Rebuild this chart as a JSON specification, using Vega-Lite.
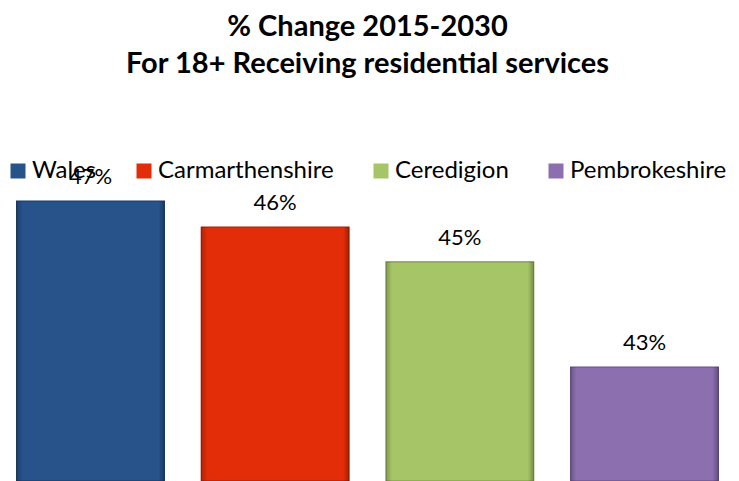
{
  "$schema": "https://vega.github.io/schema/vega-lite/v6.json",
  "width": 735,
  "height": 360,
  "autosize": {"type": "none"},
  "padding": {"top": 121, "left": 0, "right": 0, "bottom": 0},
  "background": "white",
  "title": {
    "text": ["% Change 2015-2030", "For 18+ Receiving residential services"],
    "font": "Lato",
    "fontSize": 29,
    "fontWeight": "bold",
    "color": "black",
    "lineHeight": 37,
    "anchor": "middle",
    "frame": "group",
    "offset": 42
  },
  "data": {
    "values": [
      {"area": "Wales", "change": 0.47},
      {"area": "Carmarthenshire", "change": 0.4635},
      {"area": "Ceredigion", "change": 0.4548},
      {"area": "Pembrokeshire", "change": 0.4285}
    ]
  },
  "encoding": {
    "x": {
      "field": "area",
      "type": "nominal",
      "sort": null,
      "scale": {"paddingInner": 0.2, "paddingOuter": 0.09},
      "axis": null
    }
  },
  "layer": [
    {
      "mark": {"type": "bar", "strokeWidth": 1.2},
      "encoding": {
        "y": {
          "field": "change",
          "type": "quantitative",
          "scale": {"domain": [0.4, 0.49], "zero": false, "nice": false},
          "axis": null
        },
        "y2": {"datum": 0.4},
        "color": {
          "field": "area",
          "type": "nominal",
          "sort": null,
          "title": null,
          "scale": {
            "domain": ["Wales", "Carmarthenshire", "Ceredigion", "Pembrokeshire"],
            "range": ["#28528A", "#E32D08", "#A6C566", "#8C6FAF"]
          },
          "legend": {
            "orient": "none",
            "direction": "horizontal",
            "legendX": 6,
            "legendY": 38,
            "symbolType": "square",
            "symbolSize": 225,
            "symbolStrokeWidth": 0,
            "labelFont": "Lato",
            "labelFontSize": 24,
            "labelColor": "black",
            "labelOffset": 2,
            "labelLimit": 0,
            "columnPadding": 35,
            "padding": 0
          }
        },
        "stroke": {
          "field": "area",
          "type": "nominal",
          "sort": null,
          "scale": {
            "domain": ["Wales", "Carmarthenshire", "Ceredigion", "Pembrokeshire"],
            "range": ["#1A3A66", "#A82006", "#7E9A48", "#65508A"]
          },
          "legend": null
        }
      }
    },
    {
      "mark": {
        "type": "bar",
        "color": {
          "gradient": "linear",
          "x1": 0, "y1": 0, "x2": 1, "y2": 0,
          "stops": [
            {"offset": 0, "color": "rgba(0,0,0,0.22)"},
            {"offset": 0.04, "color": "rgba(0,0,0,0)"},
            {"offset": 0.96, "color": "rgba(0,0,0,0)"},
            {"offset": 1, "color": "rgba(0,0,0,0.28)"}
          ]
        }
      },
      "encoding": {
        "y": {"field": "change", "type": "quantitative"},
        "y2": {"datum": 0.4}
      }
    },
    {
      "mark": {
        "type": "text",
        "baseline": "alphabetic",
        "dy": -17,
        "font": "Lato",
        "fontSize": 22,
        "color": "black"
      },
      "encoding": {
        "y": {"field": "change", "type": "quantitative"},
        "text": {"field": "change", "type": "quantitative", "format": ".0%"}
      }
    }
  ],
  "config": {"view": {"stroke": null}}
}
